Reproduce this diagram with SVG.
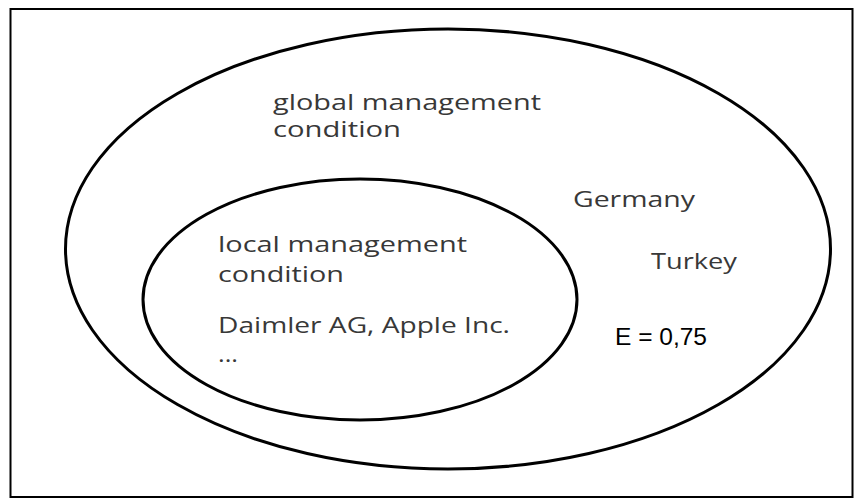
<svg xmlns="http://www.w3.org/2000/svg" width="854" height="500" viewBox="0 0 854 500">
<style>
.set{fill:none;stroke:#000;stroke-width:3}
.lbl{font-family:"Open Sans","Noto Sans","DejaVu Sans",sans-serif;font-size:21px;fill:#383838}
.val{font-family:"Liberation Sans",Arial,sans-serif;font-size:24px;fill:#000}
</style>
<rect x="10.5" y="9" width="842" height="488" fill="#fff" stroke="#000" stroke-width="2"/>
<g id="global">
<ellipse class="set" cx="448" cy="249" rx="382.5" ry="220"/>
<text class="lbl" x="273" y="110" textLength="268" lengthAdjust="spacingAndGlyphs">global management</text>
<text class="lbl" x="273" y="137" textLength="128" lengthAdjust="spacingAndGlyphs">condition</text>
</g>
<g id="germany"><text class="lbl" x="573" y="207" textLength="122" lengthAdjust="spacingAndGlyphs">Germany</text></g>
<g id="turkey"><text class="lbl" x="651" y="269" textLength="86" lengthAdjust="spacingAndGlyphs">Turkey</text></g>
<g id="local">
<ellipse class="set" cx="360" cy="299.5" rx="217" ry="120.5"/>
<text class="lbl" x="218" y="252" textLength="249" lengthAdjust="spacingAndGlyphs">local management</text>
<text class="lbl" x="218" y="282" textLength="126" lengthAdjust="spacingAndGlyphs">condition</text>
<text class="lbl" x="218" y="333" textLength="292" lengthAdjust="spacingAndGlyphs">Daimler AG, Apple Inc.</text>
<text class="lbl" x="218" y="362" textLength="20" lengthAdjust="spacingAndGlyphs">...</text>
</g>
<g id="evalue"><text class="val" x="615" y="345" textLength="92" lengthAdjust="spacingAndGlyphs">E = 0,75</text></g>
</svg>
